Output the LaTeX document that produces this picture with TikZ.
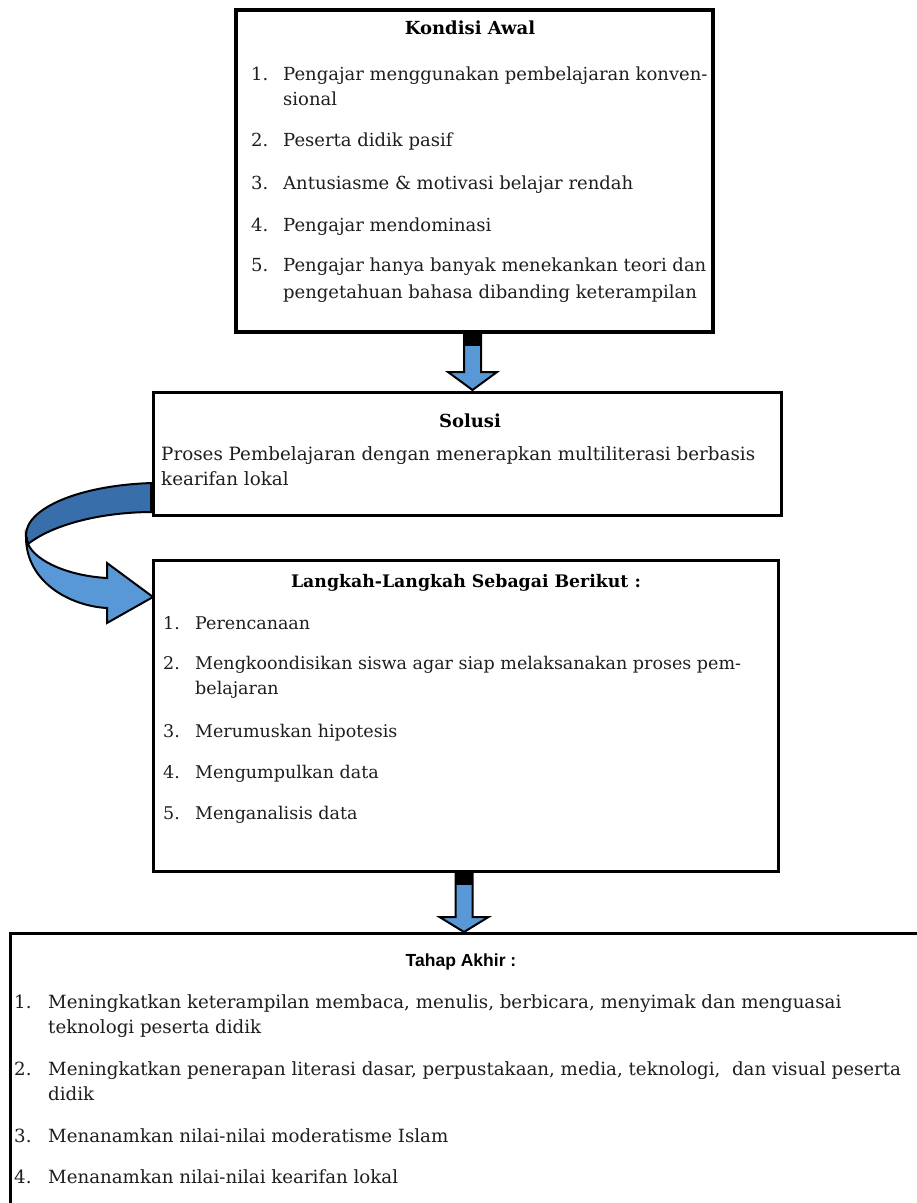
\documentclass[tikz,border=0pt]{standalone}
\usepackage{fontspec}
\setmainfont{DejaVu Serif}
\newfontfamily\headsans{Liberation Sans}
\definecolor{abl}{RGB}{88,152,214}
\definecolor{abd}{RGB}{56,110,170}
\definecolor{txt}{RGB}{30,30,30}
\newcommand\blkarrow[4]{%
  \draw[arrowfill] (#1-8.5,#2) -- (#1-8.5,#3) -- (#1-24.5,#3) -- (#1,#4) -- (#1+24.5,#3) -- (#1+8.5,#3) -- (#1+8.5,#2);
  \fill[black] (#1-9.4,#2) rectangle (#1+9.4,#2+13);
}
\begin{document}
\begin{tikzpicture}[x=1pt,y=-1pt,
  box/.style={draw=black, line width=3pt, fill=white, inner sep=0pt},
  bodyA/.style={anchor=base west, inner sep=0pt, font=\fontsize{18}{20}\selectfont, text=txt},
  bodyB/.style={anchor=base west, inner sep=0pt, font=\fontsize{18.3}{20}\selectfont, text=txt},
  bodyC/.style={anchor=base west, inner sep=0pt, font=\fontsize{17.5}{20}\selectfont, text=txt},
  bodyD/.style={anchor=base west, inner sep=0pt, font=\fontsize{18.2}{20}\selectfont, text=txt},
  ttl/.style={anchor=base, inner sep=0pt, font=\fontsize{18}{20}\selectfont\bfseries},
  arrowfill/.style={fill=abl, draw=black, line width=2pt, line join=miter}]
\clip (0,0) rectangle (917,1203);
\fill[white] (0,0) rectangle (917,1203);

% boxes
\node[box, line width=3.5pt, minimum width=477pt, minimum height=322pt] (b1) at (474.5,171) {};
\node[box, minimum width=628pt, minimum height=123pt] (b2) at (467,453.5) {};
\node[box, minimum width=625pt, minimum height=311pt] (b3) at (465.5,715.5) {};
\node[box, minimum width=930pt, minimum height=297pt] (b4) at (475,1081.5) {};

% straight block arrows
\blkarrow{472.5}{333}{372}{390}
\blkarrow{464}{872}{917}{932}

% curved arrow
\coordinate (cs) at (153,497);
\coordinate (ce) at (153,597);
\draw[fill=abd, draw=black, line width=2pt, line join=round]
  (153,483) .. controls (80,485) and (26,508) .. (26,535)
  -- (28,544) .. controls (52,525) and (100,512) .. (153,512) -- cycle;
\draw[fill=abl, draw=black, line width=2pt, line join=miter]
  (26,537) .. controls (26,582) and (70,606) .. (107,608)
  -- (107,623) -- (ce) -- (107,563) -- (107,578)
  .. controls (70,576) and (36,562) .. (28,544) -- cycle;
\fill[black] (150,483) rectangle (154,512);

% box 1 text
\node[ttl] (t1) at (470,34) {Kondisi Awal};
\node[bodyA] (n11) at (251,80) {1.};
\node[bodyA] (i11) at (283,80) {Pengajar menggunakan pembelajaran konven-};
\node[bodyA] (i11b) at (283,105) {sional};
\node[bodyA] (n12) at (251,146) {2.};
\node[bodyA] (i12) at (283,146) {Peserta didik pasif};
\node[bodyA] (n13) at (251,189) {3.};
\node[bodyA] (i13) at (283,189) {Antusiasme \& motivasi belajar rendah};
\node[bodyA] (n14) at (251,231) {4.};
\node[bodyA] (i14) at (283,231) {Pengajar mendominasi};
\node[bodyA] (n15) at (251,271) {5.};
\node[bodyA] (i15) at (283,271) {Pengajar hanya banyak menekankan teori dan};
\node[bodyA] (i15b) at (283,298) {pengetahuan bahasa dibanding keterampilan};

% box 2 text
\node[ttl] (t2) at (470,427) {Solusi};
\node[bodyB] (s1) at (161,460) {Proses Pembelajaran dengan menerapkan multiliterasi berbasis};
\node[bodyB] (s2) at (161,485) {kearifan lokal};

% box 3 text
\node[ttl, font=\fontsize{17.3}{20}\selectfont\bfseries] (t3) at (466,587) {Langkah-Langkah Sebagai Berikut :};
\node[bodyC] (n31) at (163,629) {1.};
\node[bodyC] (i31) at (195,629) {Perencanaan};
\node[bodyC] (n32) at (163,669) {2.};
\node[bodyC] (i32) at (195,669) {Mengkoondisikan siswa agar siap melaksanakan proses pem-};
\node[bodyC] (i32b) at (195,694) {belajaran};
\node[bodyC] (n33) at (163,737) {3.};
\node[bodyC] (i33) at (195,737) {Merumuskan hipotesis};
\node[bodyC] (n34) at (163,778) {4.};
\node[bodyC] (i34) at (195,778) {Mengumpulkan data};
\node[bodyC] (n35) at (163,819) {5.};
\node[bodyC] (i35) at (195,819) {Menganalisis data};

% box 4 text
\node[anchor=base, inner sep=0pt, font=\headsans\fontsize{17.5}{20}\selectfont\bfseries] (t4) at (461,966) {Tahap Akhir :};
\node[bodyD] (n41) at (14,1008) {1.};
\node[bodyD] (i41) at (48,1008) {Meningkatkan keterampilan membaca, menulis, berbicara, menyimak dan menguasai};
\node[bodyD] (i41b) at (48,1033) {teknologi peserta didik};
\node[bodyD] (n42) at (14,1075) {2.};
\node[bodyD] (i42) at (48,1075) {Meningkatkan penerapan literasi dasar, perpustakaan, media, teknologi,\ \ dan visual peserta};
\node[bodyD] (i42b) at (48,1100) {didik};
\node[bodyD] (n43) at (14,1142) {3.};
\node[bodyD] (i43) at (48,1142) {Menanamkan nilai-nilai moderatisme Islam};
\node[bodyD] (n44) at (14,1183) {4.};
\node[bodyD] (i44) at (48,1183) {Menanamkan nilai-nilai kearifan lokal};
\end{tikzpicture}
\end{document}
